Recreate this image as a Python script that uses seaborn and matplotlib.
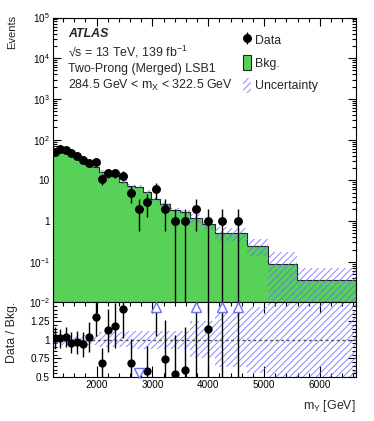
import numpy as np
import pandas as pd
import matplotlib
matplotlib.use("Agg")
import matplotlib.pyplot as plt
import seaborn as sns
from matplotlib.patches import Patch
from matplotlib.ticker import FixedLocator, MultipleLocator, LogLocator, NullFormatter, FixedFormatter

# ---------------- data ----------------
bin_edges = [1210, 1290, 1395, 1495, 1595, 1690, 1810, 1925, 2040, 2140, 2255, 2400,
             2540, 2685, 2825, 2975, 3135, 3315, 3495, 3670, 3880, 4120, 4360, 4690,
             5070, 5595, 6640]
data_counts = [49, 60, 55, 48, 40, 31, 27, 28, 11, 15, 15, 13, 5, 2, 3, 6, 2, 1, 1, 2,
               1, 1, 1, 0, 0, 0]
bkg_counts = [48, 59, 53, 50, 41.5, 33, 26, 21.5, 16, 13.3, 12.6, 9.2, 7.2, 7.0, 5.2,
              3.4, 2.7, 1.87, 1.7, 1.17, 0.87, 0.52, 0.50, 0.245, 0.087, 0.036]
bkg_rel_unc = [0.07, 0.07, 0.07, 0.07, 0.07, 0.07, 0.07, 0.07, 0.10, 0.10, 0.10, 0.10,
               0.12, 0.12, 0.12, 0.12, 0.12, 0.12, 0.12, 0.25, 0.25, 0.37, 0.37, 0.44,
               1.0, 1.0]
main_yticks = [1e-2, 1e-1, 1, 10, 1e2, 1e3, 1e4, 1e5]
main_yticklabels = [r"10$^{-2}$", r"10$^{-1}$", "1", "10", r"10$^{2}$", r"10$^{3}$",
                    r"10$^{4}$", r"10$^{5}$"]
ratio_yticks = [0.5, 0.75, 1.0, 1.25]
ratio_yticklabels = ["0.5", "0.75", "1", "1.25"]
x_ticks = [2000, 3000, 4000, 5000, 6000]

# ---------------- style ----------------
sns.set_theme(style="ticks")
plt.rcParams["font.family"] = ["Liberation Sans", "DejaVu Sans"]
plt.rcParams["mathtext.fontset"] = "custom"
plt.rcParams["mathtext.rm"] = "Liberation Sans"
plt.rcParams["mathtext.it"] = "Liberation Sans:italic"
plt.rcParams["mathtext.bf"] = "Liberation Sans:bold"
plt.rcParams["hatch.linewidth"] = 0.7

GREEN = "#57d157"
HATCH = (0.42, 0.42, 1.0, 0.8)
ARROW = "#7070ff"
TICK_FS = 7.2
TEXT_FS = 8.9

edges = np.array(bin_edges, dtype=float)
centers = 0.5 * (edges[:-1] + edges[1:])
data = np.array(data_counts, dtype=float)
bkg = np.array(bkg_counts, dtype=float)
rel = np.array(bkg_rel_unc, dtype=float)
df = pd.DataFrame({"m": centers, "bkg": bkg})

fig = plt.figure(figsize=(3.74, 4.21), dpi=100)
ax = fig.add_axes([0.1404, 0.2815, 0.8115, 0.6769])
rax = fig.add_axes([0.1404, 0.1045, 0.8115, 0.1770], sharex=ax)

# ---------------- main panel ----------------
ax.set_yscale("log")
sns.histplot(data=df, x="m", weights="bkg", bins=list(bin_edges), element="step",
             fill=True, color=GREEN, alpha=1.0, edgecolor="#222222", linewidth=0.8,
             ax=ax, zorder=1)
lo = np.clip(bkg * (1 - rel), 1e-5, None)
hi = bkg * (1 + rel)
ax.fill_between(edges, np.append(lo, lo[-1]), np.append(hi, hi[-1]), step="post",
                facecolor="none", edgecolor=HATCH, hatch="/////", linewidth=0, zorder=2)

m = data > 0
yerr_lo = np.minimum(np.sqrt(data[m]), data[m] - 1e-5)
yerr_hi = np.sqrt(data[m])
eb = ax.errorbar(centers[m], data[m], yerr=[yerr_lo, yerr_hi], fmt="o", color="black",
                 markersize=5.4, elinewidth=1.0, capsize=0, zorder=5)

ax.set_xlim(edges[0], 6645)
ax.set_ylim(1e-2, 1e5)
ax.yaxis.set_major_locator(FixedLocator(main_yticks))
ax.yaxis.set_major_formatter(FixedFormatter(main_yticklabels))
ax.yaxis.set_minor_locator(LogLocator(base=10, subs=np.arange(2, 10), numticks=20))
ax.yaxis.set_minor_formatter(NullFormatter())
ax.set_xlabel("")
ax.set_ylabel("")
ax.tick_params(labelbottom=False)

# ---------------- ratio panel ----------------
ratio = data / bkg
rel_up = np.append(1 + rel, 1 + rel[-1])
rel_dn = np.append(1 - rel, 1 - rel[-1])
rax.fill_between(edges, rel_dn, rel_up, step="post", facecolor="none", edgecolor=HATCH,
                 hatch="/////", linewidth=0, zorder=1)
rax.axhline(1.0, color="#555555", linestyle=(0, (2, 2)), linewidth=1.0, zorder=2)

r_err = np.sqrt(data[m]) / bkg[m]
rax.errorbar(centers[m], ratio[m], yerr=r_err, fmt="none", ecolor="black",
             elinewidth=1.0, capsize=0, zorder=4)
inside = m & (ratio >= 0.5) & (ratio <= 1.5)
sns.scatterplot(x=centers[inside], y=ratio[inside], color="black", s=36, edgecolor="black",
                linewidth=0, ax=rax, zorder=5)
up = m & (ratio > 1.5)
dn = m & (ratio < 0.5)
rax.plot(centers[up], np.full(up.sum(), 1.44), linestyle="none", marker="^",
         markersize=6.5, markerfacecolor="white", markeredgecolor=ARROW,
         markeredgewidth=1.0, zorder=6, clip_on=False)
rax.plot(centers[dn], np.full(dn.sum(), 0.56), linestyle="none", marker="v",
         markersize=6.5, markerfacecolor="white", markeredgecolor=ARROW,
         markeredgewidth=1.0, zorder=6, clip_on=False)

rax.set_ylim(0.5, 1.5)
rax.yaxis.set_major_locator(FixedLocator(ratio_yticks))
rax.yaxis.set_major_formatter(FixedFormatter(ratio_yticklabels))
rax.yaxis.set_minor_locator(MultipleLocator(0.05))
rax.xaxis.set_major_locator(FixedLocator(x_ticks))
rax.xaxis.set_minor_locator(MultipleLocator(200))
rax.set_xlabel("")
rax.set_ylabel("")

for a in (ax, rax):
    a.tick_params(which="both", direction="in", top=True, right=True, colors="black",
                  labelsize=TICK_FS, width=0.8, pad=2)
    a.tick_params(which="major", length=6)
    a.tick_params(which="minor", length=3)
    for s in a.spines.values():
        s.set_linewidth(0.8)
        s.set_color("black")
rax.tick_params(axis="x", which="major", length=8)

# ---------------- texts ----------------
ax.text(0.051, 0.942, "ATLAS", transform=ax.transAxes, fontsize=TEXT_FS,
        fontweight="bold", fontstyle="italic", va="center", ha="left")
ax.text(0.051, 0.880, "\u221as = 13 TeV, 139 fb$^{-1}$", transform=ax.transAxes,
        fontsize=TEXT_FS, va="center", ha="left")
ax.text(0.051, 0.819, "Two-Prong (Merged) LSB1", transform=ax.transAxes,
        fontsize=TEXT_FS, va="center", ha="left")
ax.text(0.051, 0.761, r"284.5 GeV < m$_{\mathregular{X}}$ < 322.5 GeV",
        transform=ax.transAxes, fontsize=TEXT_FS, va="center", ha="left")

handles = [eb, Patch(facecolor=GREEN, edgecolor="#222222", linewidth=0.8),
           Patch(facecolor="none", edgecolor=HATCH, hatch="/////", linewidth=0)]
ax.legend(handles, ["Data", "Bkg.", "Uncertainty"], loc="upper left",
          bbox_to_anchor=(0.627, 0.948), frameon=False, fontsize=TEXT_FS,
          handlelength=0.7, handleheight=1.5, handletextpad=0.25, labelspacing=0.62,
          borderpad=0, borderaxespad=0)

fig.text(12 / 374, 1 - 15 / 421, "Events", rotation=90, ha="center", va="top",
         fontsize=8.0)
fig.text(12 / 374, 1 - 302 / 421, "Data / Bkg.", rotation=90, ha="center", va="top",
         fontsize=TEXT_FS)
fig.text(356 / 374, 1 - 406 / 421, r"m$_{\mathregular{Y}}$ [GeV]", ha="right",
         va="center", fontsize=TEXT_FS)

fig.savefig("out.png", dpi=100)
